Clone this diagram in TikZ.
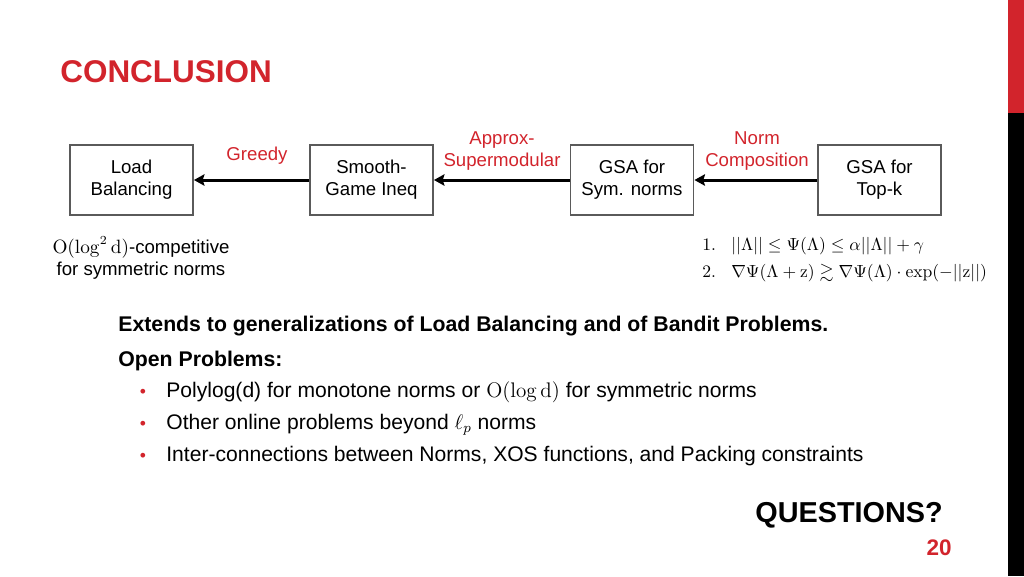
\documentclass[tikz,border=0pt]{standalone}
\usepackage[no-math]{fontspec}
\setmainfont{Liberation Sans}
\usepackage{amsmath,amssymb}
\definecolor{slred}{RGB}{210,36,44}
\definecolor{slgray}{RGB}{90,90,90}
\usetikzlibrary{arrows.meta,positioning}

\begin{document}
\begin{tikzpicture}[x=0.02cm, y=-0.02cm,
    blk/.style={draw=slgray, line width=1.1pt,
                minimum width=2.46cm, minimum height=1.4cm,
                align=center, inner sep=2pt,
                font=\fontsize{10.6}{12.5}\selectfont},
    lbl/.style={text=slred, align=center, inner sep=1pt,
                font=\fontsize{10.6}{12.5}\selectfont},
    arr/.style={line width=1.7pt, -{Stealth[length=6pt,width=6.5pt,inset=1pt]}},
    txt/.style={anchor=base west, inner sep=0pt, font=\fontsize{12}{14}\selectfont},
    bul/.style={text=slred, inner sep=0pt, font=\fontsize{10}{12}\selectfont}
  ]
    \useasboundingbox (0,0) rectangle (1024,576);

    % Side strip
    \fill[slred] (1008,0) rectangle (1024,113);
    \fill[black] (1008,113) rectangle (1024,576);

    % Title
    \node[anchor=base west, inner sep=0pt, text=slred,
          font=\fontsize{17.9}{20}\selectfont\bfseries] (title) at (60,82) {CONCLUSION};

    % Chain of results
    \node[blk] (lb)   at (131.5,180) {Load\\Balancing};
    \node[blk] (sg)   at (371.5,180) {Smooth-\\Game Ineq};
    \node[blk] (gsym) at (632,180)   {GSA for\\Sym. norms};
    \node[blk] (gtop) at (879.5,180) {GSA for\\Top-k};

    \draw[arr] (sg) -- (lb);
    \draw[arr] (gsym) -- (sg);
    \draw[arr] (gtop) -- (gsym);

    \node[lbl] (greedy) at (257,156) {Greedy};
    \node[lbl] (approx) at (502,151) {Approx-\\Supermodular};
    \node[lbl] (normc)  at (757,151) {Norm\\Composition};

    % Notes under the chain
    \node[align=center, font=\fontsize{10.6}{13}\selectfont] (lbnote) at (141,258)
      {$\mathrm{O}(\log^2\mathrm{d})$-competitive\\for symmetric norms};
    \node[anchor=west, inner sep=0pt, font=\fontsize{10.3}{13}\selectfont] (cond1) at (702,246)
      {\makebox[0.58cm][l]{$1.$}$||\Lambda|| \le \Psi(\Lambda) \le \alpha||\Lambda|| + \gamma$};
    \node[anchor=west, inner sep=0pt, font=\fontsize{10.3}{13}\selectfont] (cond2) at (702,273)
      {\makebox[0.58cm][l]{$2.$}$\nabla\Psi(\Lambda+\mathrm{z}) \gtrsim \nabla\Psi(\Lambda)\cdot\exp(-||\mathrm{z}||)$};

    % Remarks
    \node[txt, font=\fontsize{12.1}{14}\selectfont\bfseries] (ext) at (118,331)
      {Extends to generalizations of Load Balancing and of Bandit Problems.};
    \node[txt, font=\fontsize{12.1}{14}\selectfont\bfseries] (open) at (118,366)
      {Open Problems:};

    \node[bul] (b1) at (143,393) {\textbullet};
    \node[bul] (b2) at (143,425) {\textbullet};
    \node[bul] (b3) at (143,457) {\textbullet};
    \node[txt] (p1) at (166,397)
      {Polylog(d) for monotone norms or $\mathrm{O}(\log\mathrm{d})$ for symmetric norms};
    \node[txt] (p2) at (166,429)
      {Other online problems beyond $\ell_p$ norms};
    \node[txt] (p3) at (166,461)
      {Inter-connections between Norms, XOS functions, and Packing constraints};

    % Closing
    \node[anchor=base west, inner sep=0pt, font=\fontsize{16.4}{18}\selectfont\bfseries] (quest) at (755,522)
      {QUESTIONS?};
    \node[anchor=base, text=slred, inner sep=0pt, font=\fontsize{12.8}{15}\selectfont\bfseries] (pnum) at (939,555)
      {20};
\end{tikzpicture}
\end{document}
